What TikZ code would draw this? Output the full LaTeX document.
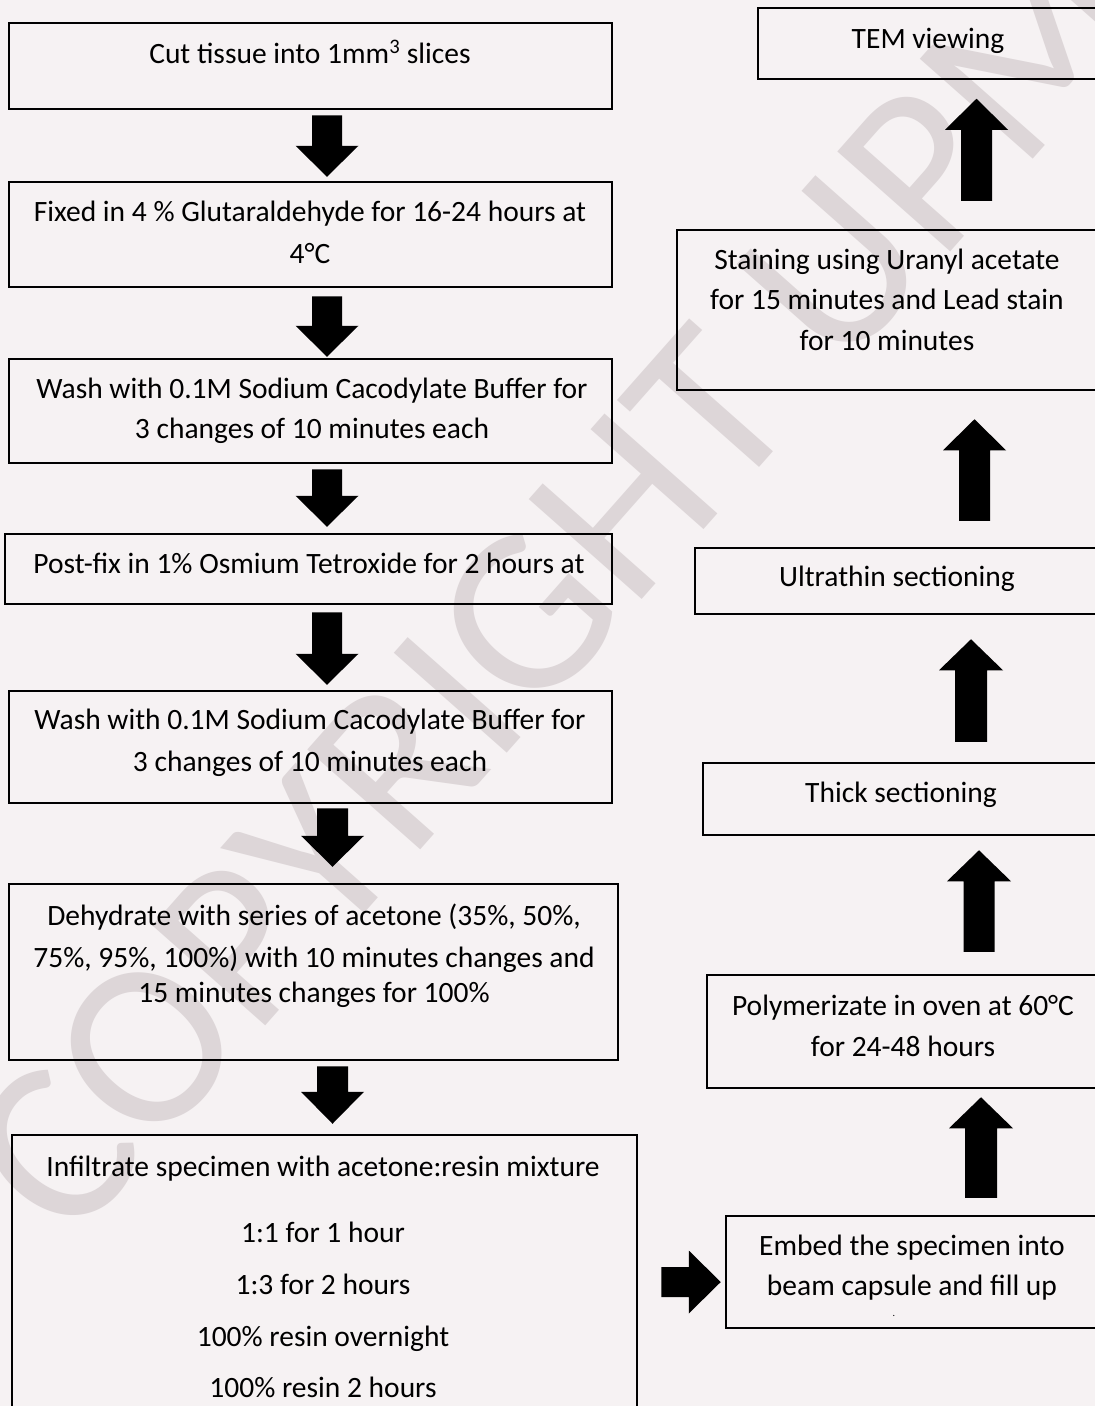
\documentclass[tikz,border=0pt]{standalone}
\usepackage{fontspec}
\setmainfont{Carlito}
\usetikzlibrary{calc}
\definecolor{wmgray}{RGB}{221,214,216}
\definecolor{bgtint}{RGB}{246,242,243}
\tikzset{
  stepbox/.style={draw=black, line width=2.5pt, inner sep=0pt, rectangle},
  txt/.style={font=\fontsize{29.5}{34}\selectfont, anchor=base, inner sep=0pt, text=black},
  wmark/.style={font=\fontsize{235}{235}\selectfont, text=wmgray, inner sep=0pt},
  blockfill/.style={fill=black},
}
% box from left, top, right, bottom
\newcommand{\mkbox}[5]{\node[stepbox, minimum width={#4-#2}, minimum height={#5-#3}] (#1) at ({(#2+#4)/2},{(#3+#5)/2}) {};}
% vertical block arrow: #1 start, #2 tip, #3 shaft half width, #4 head half width, #5 head length
\newcommand{\vblock}[5]{%
  \coordinate (hb) at ($(#2)!#5pt!(#1)$);
  \fill[blockfill] ($(#1)+(-#3,0)$) -- ($(#1)+(#3,0)$) -- ($(hb)+(#3,0)$) -- ($(hb)+(#4,0)$) -- (#2) -- ($(hb)+(-#4,0)$) -- ($(hb)+(-#3,0)$) -- cycle;}
% horizontal block arrow
\newcommand{\hblock}[5]{%
  \coordinate (hb) at ($(#2)!#5pt!(#1)$);
  \fill[blockfill] ($(#1)+(0,-#3)$) -- ($(#1)+(0,#3)$) -- ($(hb)+(0,#3)$) -- ($(hb)+(0,#4)$) -- (#2) -- ($(hb)+(0,-#4)$) -- ($(hb)+(0,-#3)$) -- cycle;}
\begin{document}
\begin{tikzpicture}[x=1pt,y=-1pt]
\useasboundingbox (0,0) rectangle (1095,1406);
\fill[bgtint] (0,0) rectangle (1095,1406);

% watermark
\node[wmark, rotate=48.5] (wm) at (555,585) {COPYRIGHT UPM};

% left column boxes
\mkbox{b1}{9}{23}{612}{109}
\mkbox{b2}{9}{182}{612}{287}
\mkbox{b3}{9}{359}{612}{463}
\mkbox{b4}{5}{534}{612}{604}
\mkbox{b5}{9}{691}{612}{803}
\mkbox{b6}{9}{884}{618}{1060}
\mkbox{b7}{12}{1135}{637}{1425}

% right column boxes
\mkbox{r1}{758}{8}{1110}{79}
\mkbox{r2}{677}{230}{1110}{390}
\mkbox{r3}{695}{548}{1110}{614}
\mkbox{r4}{703}{763}{1110}{835}
\mkbox{r5}{707}{975}{1110}{1088}
\mkbox{r6}{726}{1216}{1110}{1328}

% texts
\node[txt] (t1) at (310,63) {Cut tissue into 1mm\textsuperscript{3} slices};
\node[txt] (t2a) at (310,221) {Fixed in 4 \% Glutaraldehyde for 16-24 hours at};
\node[txt] (t2b) at (310,263) {4°C};
\node[txt] (t3a) at (312,398) {Wash with 0.1M Sodium Cacodylate Buffer for};
\node[txt] (t3b) at (312,438) {3 changes of 10 minutes each};
\node[txt] (t4) at (309,573) {Post-fix in 1\% Osmium Tetroxide for 2 hours at};
\node[txt] (t5a) at (310,729) {Wash with 0.1M Sodium Cacodylate Buffer for};
\node[txt] (t5b) at (310,771) {3 changes of 10 minutes each};
\node[txt] (t6a) at (314,925) {Dehydrate with series of acetone (35\%, 50\%,};
\node[txt] (t6b) at (314,967) {75\%, 95\%, 100\%) with 10 minutes changes and};
\node[txt] (t6c) at (314,1002) {15 minutes changes for 100\%};
\node[txt] (t7a) at (323,1176) {Infiltrate specimen with acetone:resin mixture};
\node[txt] (t7b) at (323,1242) {1:1 for 1 hour};
\node[txt] (t7c) at (323,1294) {1:3 for 2 hours};
\node[txt] (t7d) at (323,1346) {100\% resin overnight};
\node[txt] (t7e) at (323,1397) {100\% resin 2 hours};

\node[txt] (s1) at (928,48) {TEM viewing};
\node[txt] (s2a) at (887,269) {Staining using Uranyl acetate};
\node[txt] (s2b) at (887,309) {for 15 minutes and Lead stain};
\node[txt] (s2c) at (887,350) {for 10 minutes};
\node[txt] (s3) at (897,586) {Ultrathin sectioning};
\node[txt] (s4) at (901,802) {Thick sectioning};
\node[txt] (s5a) at (903,1015) {Polymerizate in oven at 60°C};
\node[txt] (s5b) at (903,1056) {for 24-48 hours};
\node[txt] (s6a) at (912,1255) {Embed the specimen into};
\node[txt] (s6b) at (912,1295) {beam capsule and fill up};
\node[font=\fontsize{10}{10}\selectfont, inner sep=0pt] (s6c) at (894,1316) {.};

% arrow columns
\coordinate (xA) at (327,0);
\coordinate (xB) at (332.5,0);
\coordinate (xU1) at (976.5,0);
\coordinate (xU2) at (974.5,0);
\coordinate (xU3) at (971,0);
\coordinate (xU4) at (979,0);
\coordinate (xU5) at (981,0);

% left down arrows
\coordinate (a1s) at ($(b1.south -| xA)+(0,5)$);  \coordinate (a1e) at ($(b2.north -| xA)+(0,-4)$);
\vblock{a1s}{a1e}{15}{31.5}{31}
\coordinate (a2s) at ($(b2.south -| xA)+(0,8)$);  \coordinate (a2e) at ($(b3.north -| xA)+(0,-1)$);
\vblock{a2s}{a2e}{15}{31.5}{31}
\coordinate (a3s) at ($(b3.south -| xA)+(0,5)$);  \coordinate (a3e) at ($(b4.north -| xA)+(0,-6)$);
\vblock{a3s}{a3e}{15}{31.5}{31}
\coordinate (a4s) at ($(b4.south -| xA)+(0,7)$);  \coordinate (a4e) at ($(b5.north -| xA)+(0,-5)$);
\vblock{a4s}{a4e}{15}{31.5}{31}
\coordinate (a5s) at ($(b5.south -| xB)+(0,4)$);  \coordinate (a5e) at ($(b6.north -| xB)+(0,-16)$);
\vblock{a5s}{a5e}{15.5}{31.5}{31}
\coordinate (a6s) at ($(b6.south -| xB)+(0,5)$);  \coordinate (a6e) at ($(b7.north -| xB)+(0,-10)$);
\vblock{a6s}{a6e}{15.5}{31.5}{32}

% right arrow
\coordinate (rs) at ($(b7.east |- 0,1282)+(23,0)$);
\coordinate (re) at ($(r6.west |- 0,1282)+(-4,0)$);
\hblock{rs}{re}{15}{31.5}{32}

% right up arrows
\coordinate (u5s) at ($(r6.north -| xU5)+(0,-17)$); \coordinate (u5e) at ($(r5.south -| xU5)+(0,8)$);
\vblock{u5s}{u5e}{16}{32}{31}
\coordinate (u4s) at ($(r5.north -| xU4)+(0,-22)$); \coordinate (u4e) at ($(r4.south -| xU4)+(0,14)$);
\vblock{u4s}{u4e}{15.5}{32}{31}
\coordinate (u3s) at ($(r4.north -| xU3)+(0,-20)$); \coordinate (u3e) at ($(r3.south -| xU3)+(0,24)$);
\vblock{u3s}{u3e}{16}{32}{31}
\coordinate (u2s) at ($(r3.north -| xU2)+(0,-26)$); \coordinate (u2e) at ($(r2.south -| xU2)+(0,28)$);
\vblock{u2s}{u2e}{15.5}{31.5}{31}
\coordinate (u1s) at ($(r2.north -| xU1)+(0,-28)$); \coordinate (u1e) at ($(r1.south -| xU1)+(0,18.5)$);
\vblock{u1s}{u1e}{15.5}{31.5}{31}
\end{tikzpicture}
\end{document}
